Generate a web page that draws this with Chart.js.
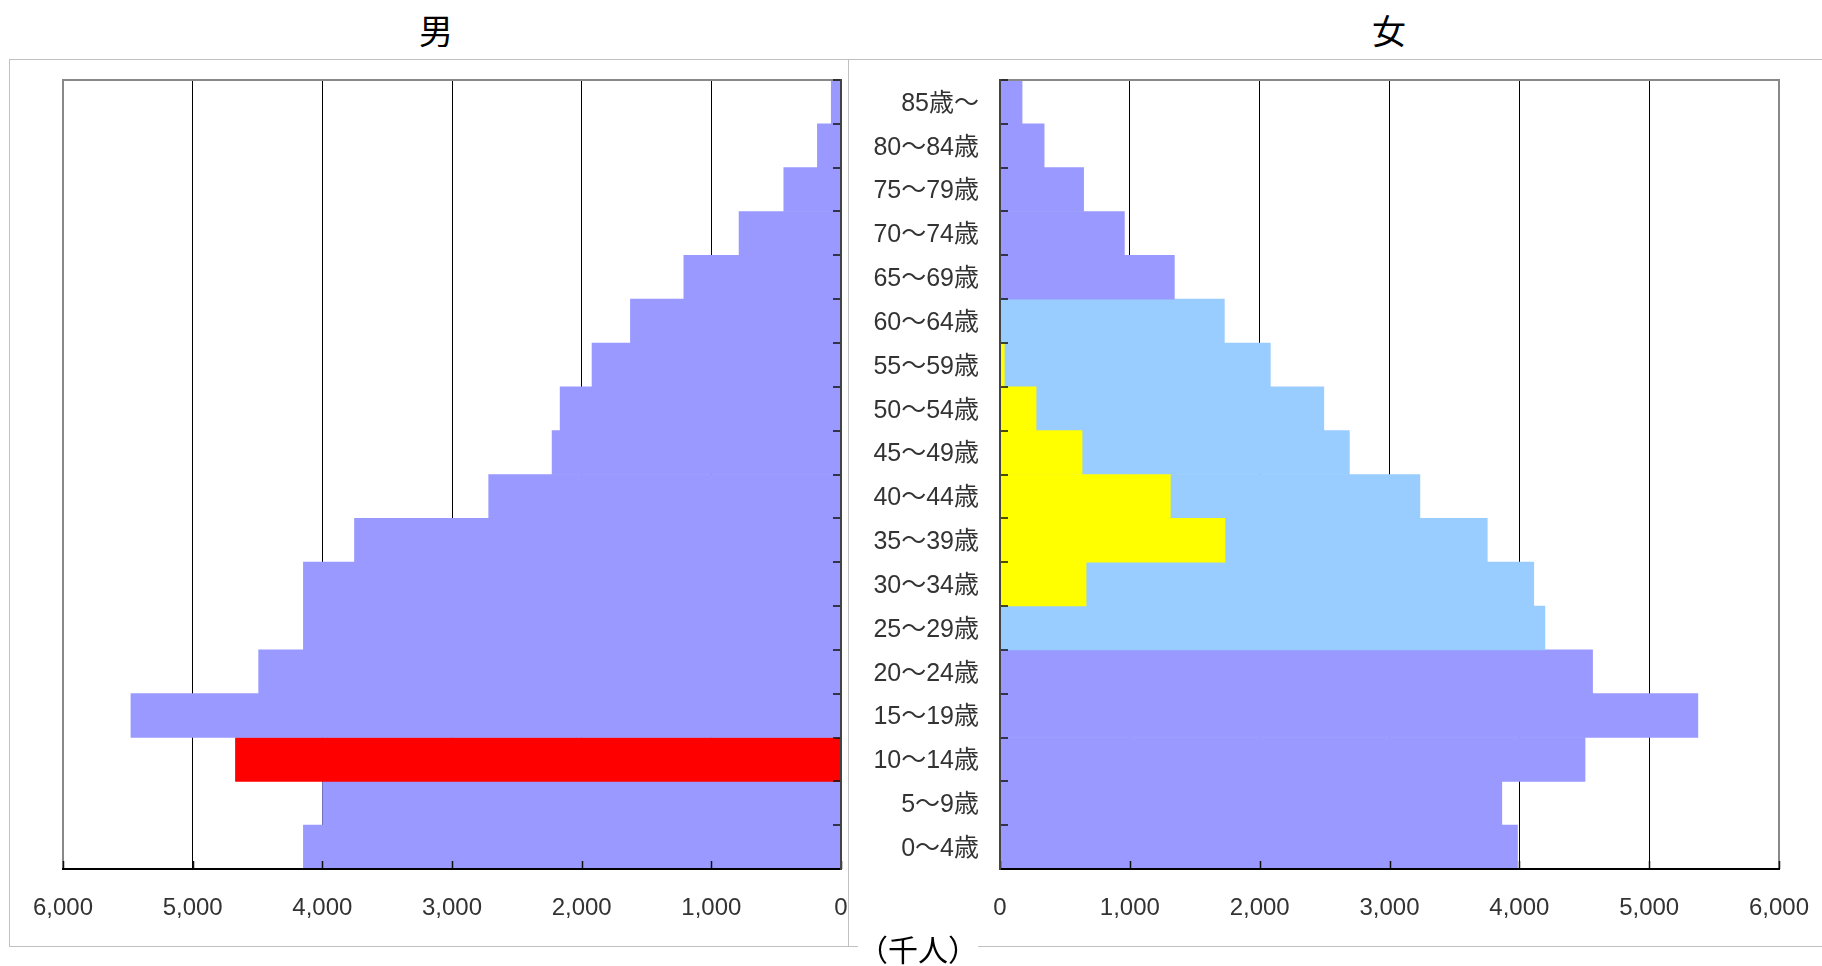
<!DOCTYPE html>
<html>
<head>
<meta charset="utf-8">
<script src="https://cdn.jsdelivr.net/npm/chart.js@4/dist/chart.umd.min.js"></script>
<style>
  html, body { margin: 0; padding: 0; background: #fff; overflow: hidden; }
  body { width: 1822px; height: 966px; position: relative; font-family: 'Noto Sans CJK JP', sans-serif; }
  .box { position: absolute; box-sizing: border-box; border: 1px solid #c0c0c0; }
  .ttl { position: absolute; top: 8px; width: 120px; text-align: center; font-size: 34px; line-height: 44px; color: #000; }
  #unit { position: absolute; left: 858px; top: 929px; width: 120px; white-space: nowrap; text-align: center; font-size: 30px; line-height: 38px; color: #000; background: #fff; }
  canvas { position: absolute; top: 0; }
</style>
</head>
<body>
<div class="box" style="left:9px; top:59px; width:840px; height:888px;"></div>
<div class="box" style="left:848px; top:59px; width:1000px; height:888px;"></div>
<div class="ttl" style="left:376px;">男</div>
<div class="ttl" style="left:1329px;">女</div>
<canvas id="male" width="848" height="966" style="left:0"></canvas>
<canvas id="female" width="974" height="966" style="left:848px"></canvas>
<div id="unit">（千人）</div>
<script>
// age groups, youngest first (drawn bottom-up)
const ages = ['0〜4歳', '5〜9歳', '10〜14歳', '15〜19歳', '20〜24歳', '25〜29歳', '30〜34歳', '35〜39歳', '40〜44歳',
  '45〜49歳', '50〜54歳', '55〜59歳', '60〜64歳', '65〜69歳', '70〜74歳', '75〜79歳', '80〜84歳', '85歳〜'];

// population, thousands
const male = [4146, 3998, 4670, 5476, 4491, 4146, 4146, 3752, 2717, 2228, 2166, 1920, 1624, 1212, 786, 441, 182, 75];
const female = [3986, 3865, 4506, 5375, 4564, 4197, 4111, 3753, 3234, 2691, 2494, 2082, 1728, 1343, 958, 644, 340, 170];
const femaleYellow = [null, null, null, null, null, null, 663, 1733, 1312, 632, 278, 33, null, null, null, null, null, null];

const xTicks = [0, 1000, 2000, 3000, 4000, 5000, 6000];

const PURPLE = '#9999FF', BLUE = '#99CCFF', YELLOW = '#FFFF00', RED = '#FF0000';
const FONT = "'Liberation Sans', 'Noto Sans CJK JP', sans-serif";

// gray frame on top/outer side + inward tick marks drawn over the bars
const frame = {
  id: 'frame',
  afterDatasetsDraw(chart) {
    const { ctx, chartArea: a, scales: { x, y } } = chart;
    const zeroX = x.getPixelForValue(0);
    const rightSide = zeroX > (a.left + a.right) / 2;
    const outer = rightSide ? a.left : a.right;
    ctx.save();
    ctx.strokeStyle = '#888';
    ctx.lineWidth = 2;
    ctx.beginPath();
    ctx.moveTo(outer, a.bottom);
    ctx.lineTo(outer, a.top);
    ctx.lineTo(rightSide ? a.right : a.left, a.top);
    ctx.stroke();

    ctx.strokeStyle = '#111';
    ctx.lineWidth = 1.5;
    ctx.beginPath();
    const dir = rightSide ? -1 : 1;
    for (let i = 0; i <= ages.length; i++) {
      const py = Math.round(y.getPixelForValue(i - 0.5));
      ctx.moveTo(zeroX, py);
      ctx.lineTo(zeroX + dir * 8, py);
    }
    x.ticks.forEach(t => {
      const px = Math.round(x.getPixelForValue(t.value)) + 0.5;
      ctx.moveTo(px, a.bottom);
      ctx.lineTo(px, a.bottom - 8);
    });
    ctx.stroke();
    ctx.restore();
  }
};

function xScale(reverse) {
  return {
    type: 'linear',
    min: 0,
    max: 6000,
    reverse,
    afterBuildTicks: s => { s.ticks = xTicks.map(v => ({ value: v })); },
    afterFit: s => {
      s.height = 97;
      s.paddingLeft = 0;
      s.paddingRight = 0;
    },
    grid: { color: '#000', lineWidth: 1, drawTicks: false },
    border: { display: true, color: '#000', width: 2, z: 1 },
    ticks: {
      padding: 25,
      color: '#333',
      font: { family: FONT, size: 24 },
      callback: v => v.toLocaleString('en-US')
    }
  };
}

function barDefaults() {
  return { categoryPercentage: 1, barPercentage: 1, borderWidth: 0, grouped: false };
}

new Chart(document.getElementById('male'), {
  type: 'bar',
  data: {
    labels: ages,
    datasets: [{
      label: '男',
      data: male,
      backgroundColor: ages.map(a => a === '10〜14歳' ? RED : PURPLE),
      ...barDefaults()
    }]
  },
  options: {
    indexAxis: 'y',
    responsive: false,
    animation: false,
    devicePixelRatio: 1,
    layout: { padding: { left: 63, right: 7, top: 80, bottom: 0 } },
    plugins: { legend: { display: false }, tooltip: { enabled: false } },
    scales: {
      x: xScale(true),
      y: {
        type: 'category',
        position: 'right',
        reverse: true,
        afterFit: s => { s.width = 0; },
        grid: { display: false, drawTicks: false },
        border: { display: true, color: '#444', width: 2, z: 1 },
        ticks: { display: false }
      }
    }
  },
  plugins: [frame]
});

new Chart(document.getElementById('female'), {
  type: 'bar',
  data: {
    labels: ages,
    datasets: [{
      label: '女（再掲）',
      data: femaleYellow,
      backgroundColor: YELLOW,
      order: 0,
      ...barDefaults()
    }, {
      label: '女',
      data: female,
      backgroundColor: ages.map((a, i) => (i >= 5 && i <= 12) ? BLUE : PURPLE),
      order: 1,
      ...barDefaults()
    }]
  },
  options: {
    indexAxis: 'y',
    responsive: false,
    animation: false,
    devicePixelRatio: 1,
    layout: { padding: { left: 0, right: 43, top: 80, bottom: 0 } },
    plugins: { legend: { display: false }, tooltip: { enabled: false } },
    scales: {
      x: xScale(false),
      y: {
        type: 'category',
        position: 'left',
        reverse: true,
        afterFit: s => { s.width = 152; },
        grid: { display: false, drawTicks: false },
        border: { display: true, color: '#444', width: 2, z: 1 },
        ticks: { padding: 21, labelOffset: 2, color: '#333', font: { family: FONT, size: 25 } }
      }
    }
  },
  plugins: [frame]
});
</script>
</body>
</html>
